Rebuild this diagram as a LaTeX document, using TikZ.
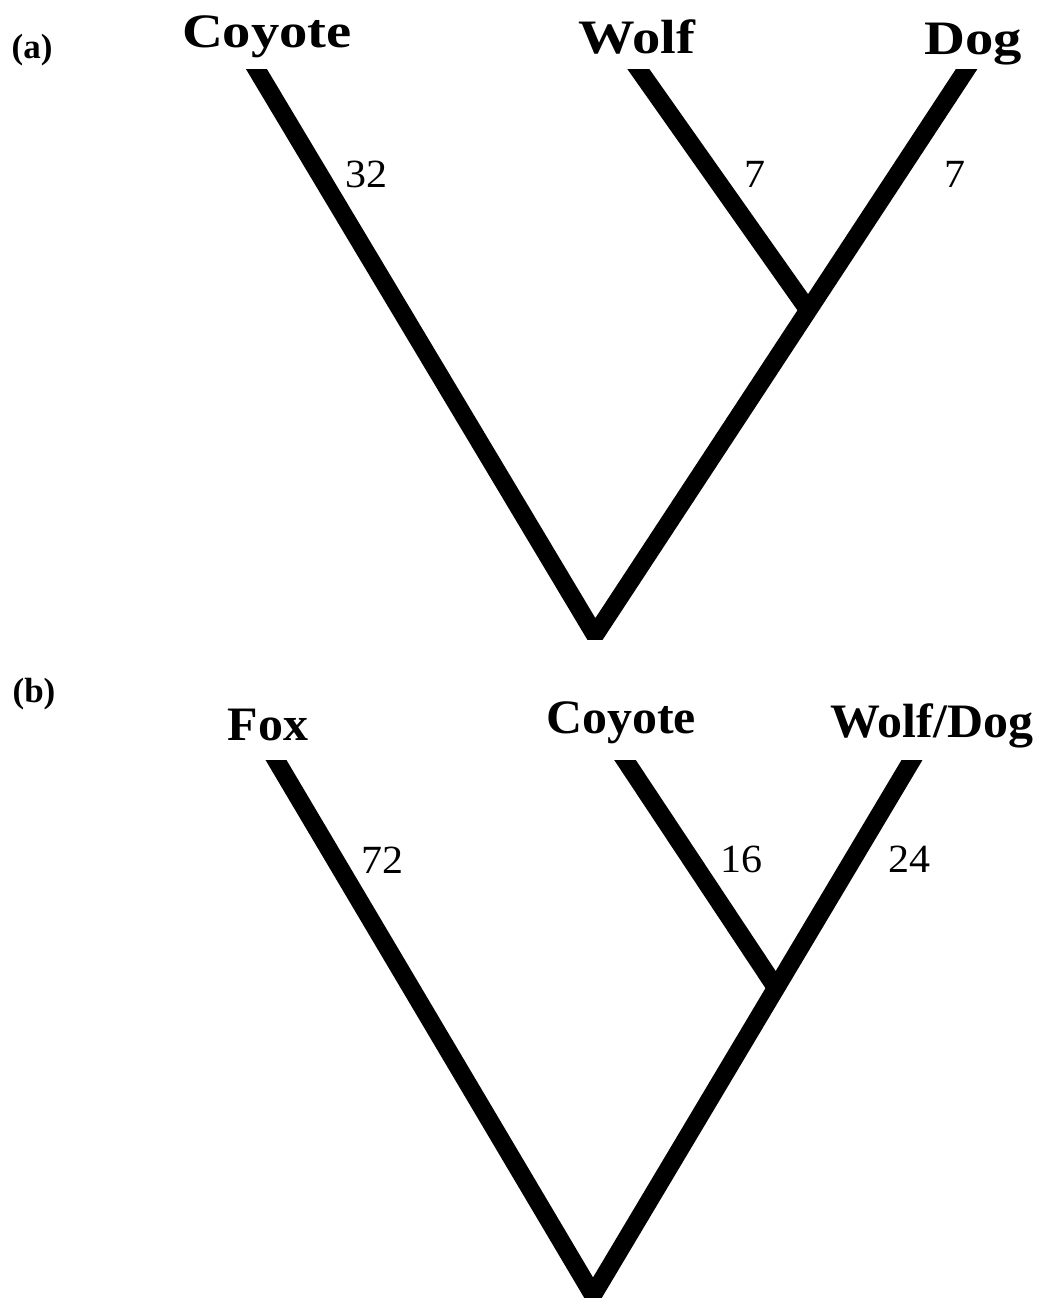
\documentclass[tikz,border=0pt]{standalone}
\usepackage{fontspec}
\usepackage{graphicx}
\setmainfont{Liberation Serif}
\usetikzlibrary{calc}

% horizontally widened label text
\newcommand{\wideA}[1]{\scalebox{1.18}[1]{#1}}
\newcommand{\wideB}[1]{\scalebox{1.04}[1]{#1}}
\newcommand{\wideN}[1]{\scalebox{1.05}[1]{#1}}

\tikzset{
  taxon/.style={anchor=base, inner sep=0pt, font=\fontsize{48}{48}\selectfont\bfseries},
  brlen/.style={anchor=base, inner sep=0pt, font=\fontsize{40}{40}\selectfont},
  panel/.style={anchor=base, inner sep=0pt, font=\fontsize{35}{35}\selectfont\bfseries},
  branch/.style={line width=18pt, line join=miter, miter limit=10, line cap=butt}
}

\begin{document}
\begin{tikzpicture}[x=1pt, y=-1pt]
  \fill[white] (0,0) rectangle (1052,1298);
  \useasboundingbox (0,0) rectangle (1052,1298);

  % ---------- tree (a) ----------
  \coordinate (coyA)  at (257,70);
  \coordinate (wolfA) at (639,70);
  \coordinate (dogA)  at (966,70);
  \coordinate (rootA) at (595,635);
  \coordinate (junA)  at ($(rootA)!0.575!(dogA)$);

  \begin{scope}
    \clip (0,70) rectangle (1052,639);
    \draw[branch, shorten <=-12pt, shorten >=-12pt] (coyA) -- (rootA) -- (dogA);
    \draw[branch, shorten <=-12pt] (wolfA) -- (junA);
  \end{scope}

  \node[panel] (pa) at (32,59) {(a)};
  \node[taxon] (tCoyA) at (267,48) {\wideA{Coyote}};
  \node[taxon] (tWolfA) at (637,54) {\wideA{Wolf}};
  \node[taxon] (tDogA) at (973,55) {\wideA{Dog}};

  \node[brlen] (lCoyA) at (366,187) {\wideN{32}};
  \node[brlen] (lWolfA) at (755,187) {\wideN{7}};
  \node[brlen] (lDogA) at (955,187) {\wideN{7}};

  % ---------- tree (b) ----------
  \coordinate (foxB)  at (276,760);
  \coordinate (coyB)  at (625,760);
  \coordinate (wdB)   at (912,760);
  \coordinate (rootB) at (593,1295);
  \coordinate (junB)  at ($(rootB)!0.574!(wdB)$);

  \begin{scope}
    \clip (0,760) rectangle (1052,1298);
    \draw[branch, shorten <=-12pt, shorten >=-12pt] (foxB) -- (rootB) -- (wdB);
    \draw[branch, shorten <=-12pt] (coyB) -- (junB);
  \end{scope}

  \node[panel] (pb) at (34,702) {(b)};
  \node[taxon] (tFoxB) at (268,740) {\wideB{Fox}};
  \node[taxon] (tCoyB) at (621,733) {\wideB{Coyote}};
  \node[taxon] (tWdB) at (932,737) {\wideB{Wolf/Dog}};

  \node[brlen] (lFoxB) at (382,873) {\wideN{72}};
  \node[brlen] (lCoyB) at (741,872) {\wideN{16}};
  \node[brlen] (lWdB) at (909,872) {\wideN{24}};
\end{tikzpicture}
\end{document}
